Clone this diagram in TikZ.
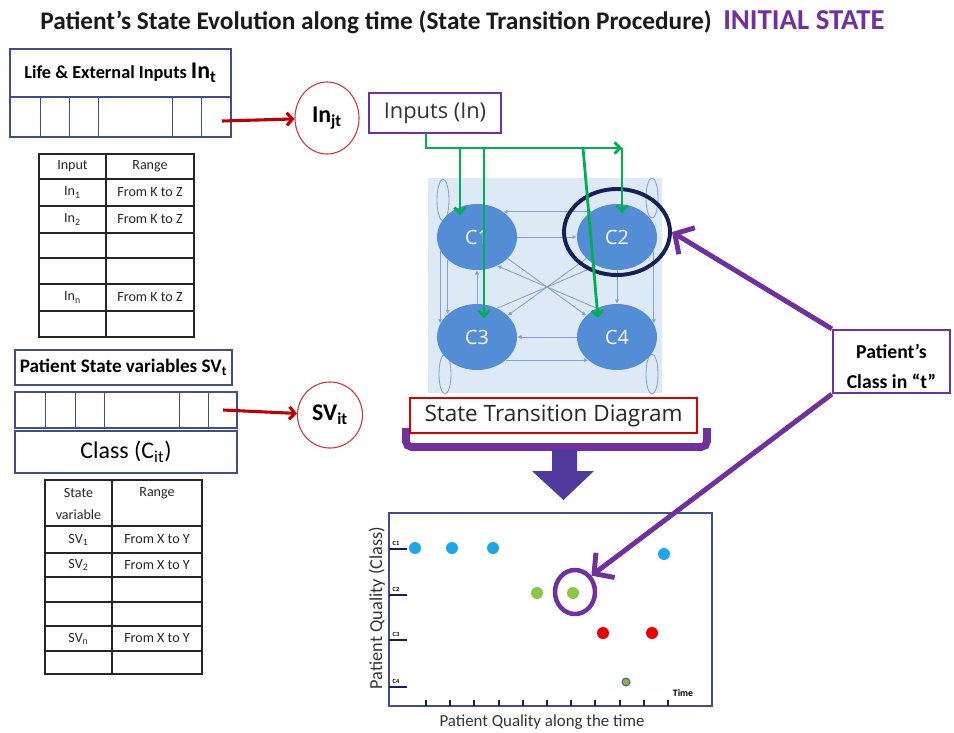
\documentclass[tikz,border=0pt]{standalone}
\usepackage{fontspec}
\setmainfont{Carlito}
\newfontfamily\segfont{Open Sans}
\usetikzlibrary{arrows.meta,shapes.geometric,calc,positioning}

\definecolor{boxnavy}{RGB}{64,78,140}
\definecolor{selnavy}{RGB}{22,32,86}
\definecolor{arrred}{RGB}{192,0,0}
\definecolor{ringred}{RGB}{205,60,60}
\definecolor{purp}{RGB}{112,48,160}
\definecolor{blockpurp}{RGB}{80,58,158}
\definecolor{stateblue}{RGB}{83,141,213}
\definecolor{faintblue}{RGB}{135,160,205}
\definecolor{paleblue}{RGB}{222,233,246}
\definecolor{ingreen}{RGB}{0,176,80}
\definecolor{dotblue}{RGB}{28,168,232}
\definecolor{dotgreen}{RGB}{140,198,70}
\definecolor{dotred}{RGB}{238,0,0}
\definecolor{dotolive}{RGB}{150,170,70}

\newcommand\pu{0.025cm}

\tikzset{
  navybox/.style={draw=boxnavy, line width=1.1pt, inner sep=0pt},
  tblline/.style={line width=1pt, black!85},
  tbltext/.style={font=\fontsize{10}{11}\selectfont, inner sep=0pt, text=black!85},
  redarr/.style={arrred, line width=2.2pt, -{Straight Barb[length=4pt,width=9pt]}},
  redring/.style={ellipse, draw=ringred, line width=0.8pt, inner sep=0pt, font=\bfseries\fontsize{17}{20}\selectfont},
  grn/.style={ingreen, line width=2pt, -{Straight Barb[length=4pt,width=8pt]}},
  classnode/.style={ellipse, fill=stateblue, text=white, minimum width=80*\pu, minimum height=66*\pu, inner sep=0pt, font=\segfont\fontsize{14}{16}\selectfont},
  faint/.style={faintblue, line width=0.6pt},
  fa/.style={faint, -{Latex[length=3pt,width=3pt]}},
  parr/.style={purp, line width=3.5pt, -{Straight Barb[length=10pt,width=22pt]}},
  axtick/.style={selnavy, line width=1.4pt},
  chartdot/.style={circle, inner sep=0pt, minimum size=12*\pu},
}

\begin{document}
\begin{tikzpicture}[x=0.025cm, y=-0.025cm]
\useasboundingbox (0,0) rectangle (954,732);

% title line
\node[anchor=base west, inner sep=0pt, font=\bfseries\fontsize{18}{20}\selectfont, text=black!90] (title) at (40,29) {Patient’s State Evolution along time (State Transition Procedure)};
\node[anchor=base west, inner sep=0pt, font=\bfseries\fontsize{20.5}{22}\selectfont, text=purp] (initial) at (723,29) {INITIAL STATE};

% life and external inputs
\node[navybox, minimum width=221*\pu, minimum height=48*\pu] (lifehead) at (120.5,73) {\bfseries\fontsize{13}{15}\selectfont Life \& External Inputs {\fontsize{17}{20}\selectfont In\textsubscript{t}}};
\node[navybox, minimum width=221*\pu, minimum height=40*\pu] (liferow) at (120.5,117) {};
\foreach \x in {40,69,98,172,201}
  \draw[boxnavy, line width=0.5pt] (\x,97) -- (\x,137);

\coordinate (inout) at (222,121);
\node[redring, minimum width=64*\pu, minimum height=72*\pu] (injt) at (327,118) {In\textsubscript{jt}};
\draw[redarr] (inout) -- (injt);

% inputs table
\draw[tblline] (39,154) rectangle (194,337);
\draw[tblline] (106,154) -- (106,337);
\foreach \y in {179,206,233,258,284,311}
  \draw[tblline] (39,\y) -- (194,\y);
\node[tbltext] (inhead) at (72.5,166.5) {Input};
\node[tbltext] (inrange) at (150,166.5) {Range};
\foreach \y/\n/\s in {192.5/a/1, 219.5/b/2, 297.5/c/n}{
  \node[tbltext] (in-\n) at (72.5,\y) {In\textsubscript{\s}};
  \node[tbltext] (rng-\n) at (150,\y) {From K to Z};
}

% patient state variables
\node[navybox, minimum width=217*\pu, minimum height=35*\pu] (svhead) at (123.5,367.5) {\bfseries\fontsize{13.6}{15}\selectfont Patient State variables SV\textsubscript{t}};
\node[navybox, minimum width=222*\pu, minimum height=36*\pu] (svrow) at (126,410) {};
\foreach \x in {45,75,104,179,208}
  \draw[boxnavy, line width=0.5pt] (\x,392) -- (\x,428);
\node[navybox, minimum width=222*\pu, minimum height=42*\pu] (classbox) at (126,452) {\fontsize{17}{20}\selectfont Class (C\textsubscript{it})};

\coordinate (svout) at (223,410);
\node[redring, minimum width=65*\pu, minimum height=66*\pu] (svit) at (330,415) {SV\textsubscript{it}};
\draw[redarr] (svout) -- (svit);

% state variable table
\draw[tblline] (45,480) rectangle (202,674);
\draw[tblline] (112,480) -- (112,674);
\foreach \y in {526,553,577,602,626,651}
  \draw[tblline] (45,\y) -- (202,\y);
\node[tbltext, align=center, font=\fontsize{10}{15.5}\selectfont] (svhead1) at (78.5,504) {State\\variable};
\node[tbltext] (svhead2) at (157,493) {Range};
\foreach \y/\n/\s in {539.5/a/1, 565/b/2, 638.5/c/n}{
  \node[tbltext] (sv-\n) at (78.5,\y) {SV\textsubscript{\s}};
  \node[tbltext] (svr-\n) at (157,\y) {From X to Y};
}

% inputs box
\node[draw=purp, line width=1.6pt, minimum width=132*\pu, minimum height=40*\pu, font=\segfont\fontsize{15.5}{17}\selectfont, text=black!80] (inputs) at (435,113) {Inputs (In)};

% state transition diagram
\node[fill=paleblue, minimum width=234*\pu, minimum height=215*\pu, inner sep=0pt] (stdbg) at (545,285.5) {};
\draw[faint] (443,200) ellipse [x radius=6, y radius=21];
\draw[faint] (652,198) ellipse [x radius=6, y radius=20];
\draw[faint] (445,374) ellipse [x radius=6, y radius=20];
\draw[faint] (652,374) ellipse [x radius=6, y radius=20];
\node[classnode] (c1) at (477,237) {C1};
\node[classnode] (c2) at (617,237) {C2};
\node[classnode] (c3) at (477,337) {C3};
\node[classnode] (c4) at (617,337) {C4};
\draw[fa] (c2.136) -- (c1.44);
\draw[fa] (c1.east) -- (c2.west);
\draw[fa] (c4.west) -- (c3.east);
\draw[fa] (c3.-39) -- (c4.-141);
\draw[fa] (c2.south) -- (c4.north);
\draw[fa] (c3.north) -- (c1.south);
\draw[fa] (c1.218) -- (c3.142);
\draw[fa] (c1.200) -- (c3.160);
\draw[fa] (c2.-20) -- (c4.20);
\draw[fa] (c1.-35) -- (c4.145);
\draw[fa] (c4.125) -- (c1.-55);
\draw[fa] (c2.-145) -- (c3.35);
\draw[fa] (c3.55) -- (c2.-125);
\node[ellipse, draw=selnavy, line width=2.8pt, minimum width=106*\pu, minimum height=86*\pu, inner sep=0pt] (sel) at (617,232) {};

% green input arrows
\coordinate (gsrc) at (426,133);
\coordinate (gbend) at (426,148);
\coordinate (gend) at (622,148);
\draw[grn] (gsrc) -- (gbend) -- (gend);
\foreach \x/\n in {460/c1, 484/c3, 583/c4, 622/c2}
  \coordinate (g\n) at (\x,148);
\draw[grn] (gc1) -- ($(c1)+(-17,-22)$);
\draw[grn] (gc3) -- ($(c3)+(7,-19)$);
\draw[grn] (gc4) -- ($(c4)+(-19,-19)$);
\draw[grn] (gc2) -- ($(c2)+(5,-24)$);

% bracket, label and block arrow
\draw[purp, line width=5.5pt, rounded corners=4pt] (406,428) -- (406,447) -- (707,447) -- (707,428);
\node[draw=red!85!black, line width=1.6pt, fill=white, minimum width=287*\pu, minimum height=35*\pu, font=\segfont\fontsize{16}{18}\selectfont, text=black!85] (stdlabel) at (553.5,415.5) {State Transition Diagram};
\fill[blockpurp] (552,450) -- (577,450) -- (577,471) -- (594,471) -- (563.5,500) -- (532,471) -- (552,471) -- cycle;

% chart
\node[draw=boxnavy, line width=1.2pt, minimum width=323*\pu, minimum height=193*\pu, inner sep=0pt] (chart) at (550.5,609.5) {};
\foreach \y/\c in {549/1, 595/2, 640/3, 687/4}{
  \draw[axtick] (389,\y) -- (407,\y);
  \node[font=\bfseries\fontsize{4.5}{5}\selectfont, inner sep=0pt] (cl\c) at (396,{\y-6}) {C\c};
}
\foreach \i in {0,...,10}
  \draw[axtick] ({426+24.2*\i},700) -- ({426+24.2*\i},706);
\node[font=\bfseries\fontsize{7}{8}\selectfont, inner sep=0pt] (timelab) at (683,693) {Time};
\node[rotate=90, font=\fontsize{13}{15}\selectfont, text=black!80] (ylab) at (377,608) {Patient Quality (Class)};
\node[font=\fontsize{12}{14}\selectfont, text=black!80] (xlab) at (542,722) {Patient Quality along the time};
\foreach \x/\y/\c [count=\k] in {415/548/dotblue, 452/548/dotblue, 493/548/dotblue, 664/554/dotblue, 537/593/dotgreen, 573/593/dotgreen, 603/633/dotred, 652/633/dotred}
  \node[chartdot, fill=\c] (dot\k) at (\x,\y) {};
\node[chartdot, minimum size=8*\pu, fill=dotolive, draw=boxnavy, line width=0.6pt] (dot9) at (626,682) {};
\node[ellipse, draw=purp, line width=3.2pt, minimum width=40*\pu, minimum height=44*\pu, inner sep=0pt] (ring) at (575,592) {};

% patient class box
\node[draw=purp, line width=1.6pt, fill=white, minimum width=117*\pu, minimum height=57*\pu, align=center, font=\bfseries\fontsize{14}{21}\selectfont] (clsbox) at (891.5,361.5) {\rule{0pt}{17pt}Patient’s\\Class in “t”};
\draw[parr] (clsbox.north west) -- (sel.east);
\draw[parr] (clsbox.south west) -- (ring.45);

\end{tikzpicture}
\end{document}
